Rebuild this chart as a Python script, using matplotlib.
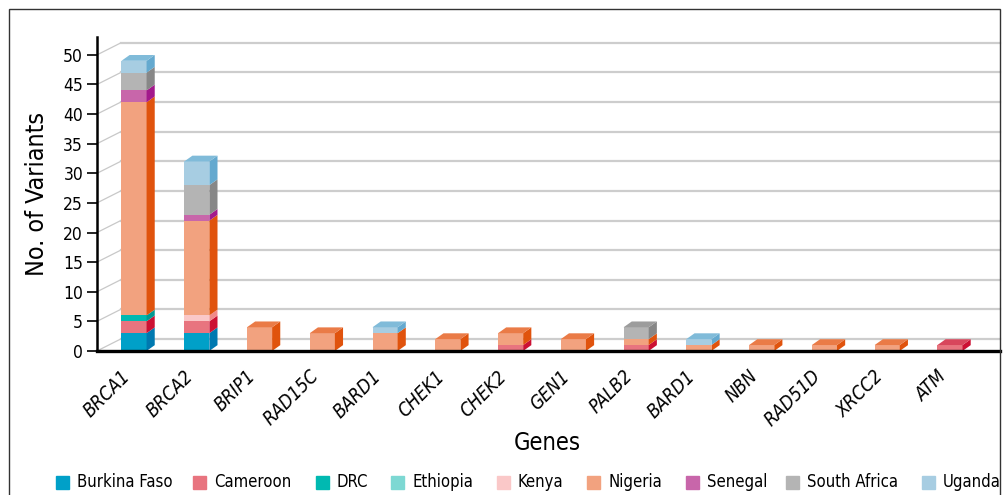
import matplotlib
matplotlib.use('Agg')
import matplotlib.pyplot as plt
from matplotlib import font_manager
from matplotlib.patches import Polygon, Rectangle

# pick a condensed sans if there is one
fonts = [(f.name, f.stretch) for f in font_manager.fontManager.ttflist]
if any(n == 'Liberation Sans Narrow' for n, s in fonts):
    plt.rcParams['font.family'] = ['Liberation Sans Narrow', 'DejaVu Sans']
else:
    plt.rcParams['font.family'] = ['DejaVu Sans']
    plt.rcParams['font.stretch'] = 'condensed'

genes = ['BRCA1', 'BRCA2', 'BRIP1', 'RAD15C', 'BARD1', 'CHEK1', 'CHEK2',
         'GEN1', 'PALB2', 'BARD1', 'NBN', 'RAD51D', 'XRCC2', 'ATM']

countries = ['Burkina Faso', 'Cameroon', 'DRC', 'Ethiopia', 'Kenya',
             'Nigeria', 'Senegal', 'South Africa', 'Uganda']

burkina_faso = [3, 3, 0, 0, 0, 0, 0, 0, 0, 0, 0, 0, 0, 0]
cameroon = [2, 2, 0, 0, 0, 0, 1, 0, 1, 0, 0, 0, 0, 1]
drc = [1, 0, 0, 0, 0, 0, 0, 0, 0, 0, 0, 0, 0, 0]
ethiopia = [0, 0, 0, 0, 0, 0, 0, 0, 0, 0, 0, 0, 0, 0]
kenya = [0, 1, 0, 0, 0, 0, 0, 0, 0, 0, 0, 0, 0, 0]
nigeria = [36, 16, 4, 3, 3, 2, 2, 2, 1, 1, 1, 1, 1, 0]
senegal = [2, 1, 0, 0, 0, 0, 0, 0, 0, 0, 0, 0, 0, 0]
south_africa = [3, 5, 0, 0, 0, 0, 0, 0, 2, 0, 0, 0, 0, 0]
uganda = [2, 4, 0, 0, 1, 0, 0, 0, 0, 1, 0, 0, 0, 0]

series = [burkina_faso, cameroon, drc, ethiopia, kenya,
          nigeria, senegal, south_africa, uganda]

# front, side, top colours for each country
front_col = ['#00a0c8', '#e8747f', '#00b9b1', '#7dd8d3', '#fac8c8',
             '#f2a27f', '#c866aa', '#b4b4b4', '#a7cde2']
side_col = ['#0079b0', '#cc1133', '#009a92', '#4fbdb7', '#f08a8a',
            '#e0530d', '#a3198c', '#878787', '#64a9cf']
top_col = ['#1b8fc0', '#d8465c', '#12a8a0', '#62c9c3', '#f4a8a8',
           '#ea7b47', '#b43e9b', '#9c9c9c', '#80bbd9']

fig = plt.figure(figsize=(10.04, 4.95), dpi=100)
ax = fig.add_axes([0.0966, 0.291, 0.899, 0.634])

xmin, xmax = -0.59, 13.79
ymin, ymax = 0, 53
ax.set_xlim(xmin, xmax)
ax.set_ylim(ymin, ymax)

# back wall grid (pseudo 3d)
gdx, gdy = 0.38, 2.03
for v in range(0, 51, 5):
    ax.plot([xmin, xmin + gdx], [v, v + gdy], color='#c8c8c8', lw=0.9,
            zorder=1, clip_on=False)
    ax.plot([xmin + gdx, xmax], [v + gdy, v + gdy], color='#cdcdcd', lw=1.6,
            zorder=1, clip_on=False)

# bars
width = 0.4
bdx, bdy = 0.13, 0.98
x = list(range(len(genes)))
bottom = [0] * len(genes)
for i, vals in enumerate(series):
    bars = ax.bar(x, vals, width, bottom=bottom, color=front_col[i],
                  linewidth=0, zorder=3)
    for j, b in enumerate(bars):
        if vals[j] == 0:
            continue
        x1 = b.get_x() + b.get_width()
        y0 = b.get_y()
        y1 = y0 + b.get_height()
        ax.add_patch(Polygon([(x1, y0), (x1 + bdx, y0 + bdy),
                              (x1 + bdx, y1 + bdy), (x1, y1)],
                             closed=True, color=side_col[i], lw=0, zorder=3))
    bottom = [bottom[j] + vals[j] for j in range(len(genes))]

# top faces of each stack
for j in range(len(genes)):
    last = max(i for i in range(len(series)) if series[i][j] > 0)
    x0 = j - width / 2
    x1 = j + width / 2
    y1 = bottom[j]
    ax.add_patch(Polygon([(x0, y1), (x0 + bdx, y1 + bdy),
                          (x1 + bdx, y1 + bdy), (x1, y1)],
                         closed=True, color=top_col[last], lw=0, zorder=4))

for s in ['top', 'right']:
    ax.spines[s].set_visible(False)
ax.spines['left'].set_linewidth(1.8)
ax.spines['bottom'].set_linewidth(2.4)
ax.spines['left'].set_zorder(5)
ax.spines['bottom'].set_zorder(5)

ax.set_yticks(range(0, 51, 5))
ax.tick_params(axis='y', length=7, width=1.2, labelsize=12.5, pad=3)
ax.set_xticks(x)
ax.set_xticklabels(genes, rotation=45, ha='right', va='bottom',
                   rotation_mode='anchor', style='italic', fontsize=13.5)
ax.tick_params(axis='x', length=0, pad=21)

ax.set_ylabel('No. of Variants', fontsize=18, va='bottom')
ax.yaxis.set_label_coords(-0.053, 0.5)
ax.set_xlabel('Genes', fontsize=17, va='top')
ax.xaxis.set_label_coords(0.499, -0.255)

# outer frame
fig.patches.append(Rectangle((0.009, -0.1), 0.987, 1.082, transform=fig.transFigure,
                             fill=False, edgecolor='#333333', lw=1.0))

# legend
sq_x = [56, 193, 316, 391, 497, 587, 686, 786, 922]
for k, name in enumerate(countries):
    fig.patches.append(Rectangle((sq_x[k] / 1004, (495 - 489) / 495), 13 / 1004, 13 / 495,
                                 transform=fig.transFigure, color=front_col[k]))
    fig.text((sq_x[k] + 21) / 1004, (495 - 482) / 495, name, fontsize=12,
             va='center', ha='left')

fig.savefig('out.png', dpi=100)
